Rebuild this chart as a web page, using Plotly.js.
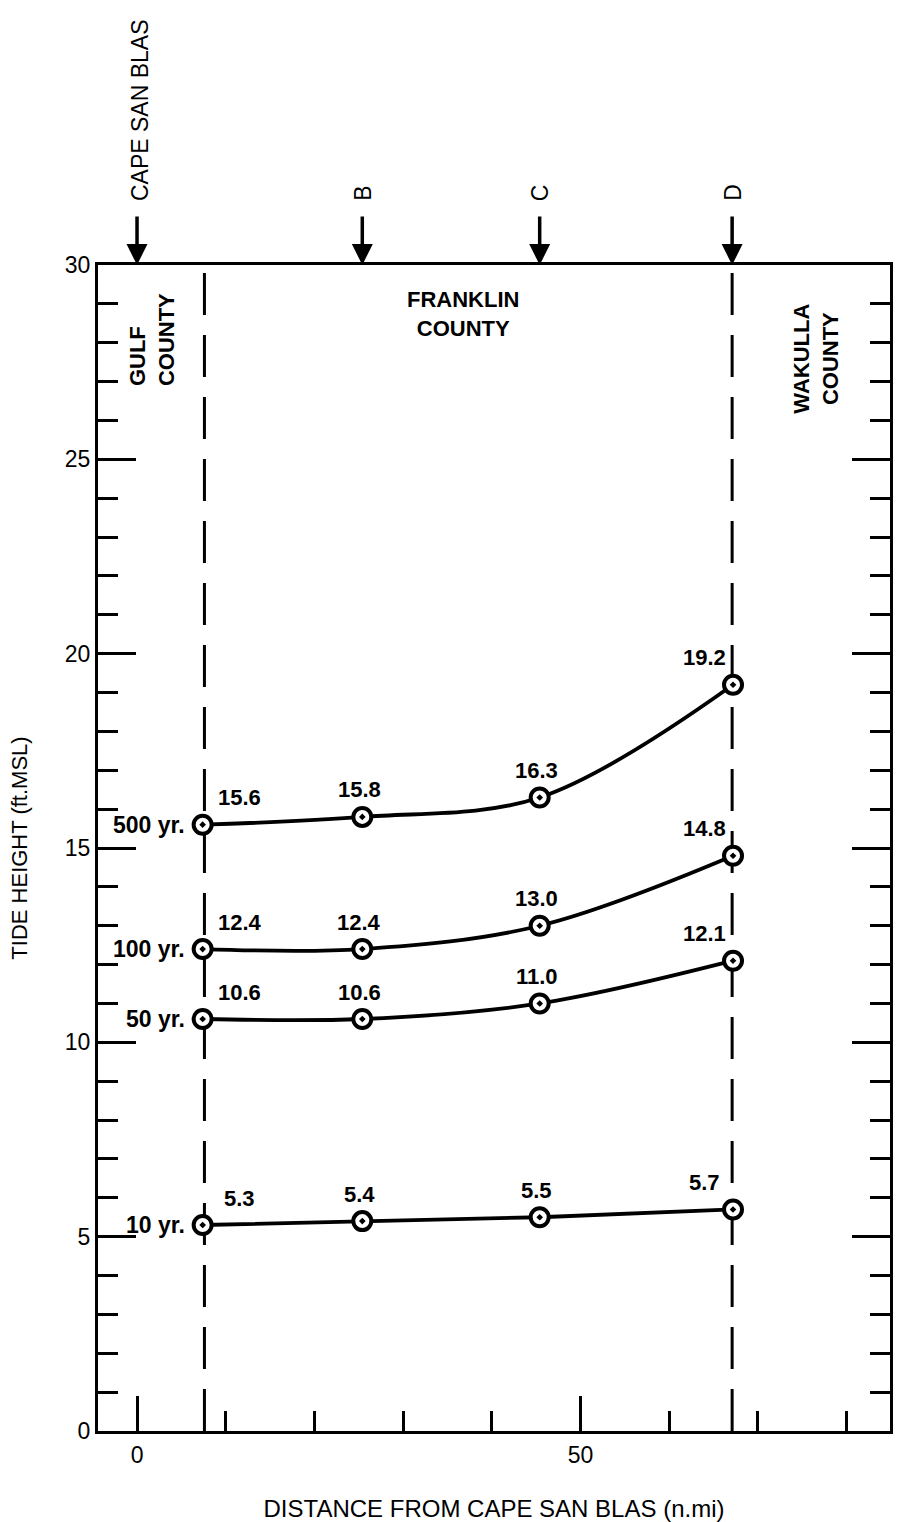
<!DOCTYPE html>
<html>
<head>
<meta charset="utf-8">
<script src="https://cdn.plot.ly/plotly-3.0.1.min.js"></script>
<style>html,body{margin:0;padding:0;background:#fff;}#chart{width:898px;height:1522px;}</style>
</head>
<body>
<div id="chart"></div>
<script>
// Distance from Cape San Blas (n.mi) of the tide stations
const distances = [7.4, 25.4, 45.4, 67.2];
// Tide heights (ft. MSL) by return period
const seriesNames = ['10 yr.', '50 yr.', '100 yr.', '500 yr.'];
const tide10 = [5.3, 5.4, 5.5, 5.7];
const tide50 = [10.6, 10.6, 11.0, 12.1];
const tide100 = [12.4, 12.4, 13.0, 14.8];
const tide500 = [15.6, 15.8, 16.3, 19.2];
// Reference stations marked by arrows along the top
const stationNames = ['CAPE SAN BLAS', 'B', 'C', 'D'];
const stationDist = [0, 25.4, 45.4, 67.1];
// County boundaries
const boundaries = [7.6, 67.1];
// Axis tick labels
const xTickVals = [0, 50];
const yTickVals = [0, 5, 10, 15, 20, 25, 30];

const FONT = 'Liberation Sans, Arial, Helvetica, sans-serif';
const allSeries = [tide10, tide50, tide100, tide500];

const traces = [];
// county boundary dashed lines
boundaries.forEach(b => {
  traces.push({
    x: [b, b], y: [0, 30], mode: 'lines', hoverinfo: 'skip', showlegend: false,
    line: {color: '#000', width: 3, dash: '42px,20px'}
  });
});
allSeries.forEach((ys, k) => {
  traces.push({
    x: distances, y: ys, mode: 'lines+markers', showlegend: false,
    name: seriesNames[k], cliponaxis: false,
    line: {color: '#000', width: 3.8, shape: k === 0 ? 'linear' : 'spline', smoothing: 1},
    marker: {symbol: 'circle-dot', size: 18, color: '#fff', line: {color: '#000', width: 4}}
  });
});

const annotations = [];
allSeries.forEach((ys, k) => {
  ys.forEach((v, i) => {
    let xs = 0;
    if (i === 0) xs = 37;
    else if (i === ys.length - 1) xs = -29;
    else xs = -3;
    annotations.push({
      x: distances[i], y: v, xref: 'x', yref: 'y', text: v.toFixed(1),
      showarrow: false, xanchor: 'center', yanchor: 'middle', xshift: xs, yshift: 27,
      font: {family: FONT, size: 22, color: '#000', weight: 'bold'}
    });
  });
  annotations.push({
    x: distances[0], y: ys[0], xref: 'x', yref: 'y', text: seriesNames[k],
    showarrow: false, xanchor: 'right', yanchor: 'middle', xshift: -16, yshift: 0,
    font: {family: FONT, size: 23, color: '#000', weight: 'bold'}
  });
});
// station arrows and labels
stationDist.forEach((d, i) => {
  annotations.push({
    x: d, y: 30, xref: 'x', yref: 'y', text: '', showarrow: true,
    ax: 0, ay: -50, arrowhead: 2, arrowsize: 1.2, arrowwidth: 3.5, arrowcolor: '#000', standoff: 0
  });
  annotations.push({
    x: d, y: 1, xref: 'x', yref: 'paper', text: stationNames[i], showarrow: false,
    textangle: -90, xanchor: 'center', yanchor: 'bottom', yshift: 62, xshift: i === 0 ? 3 : 0,
    font: {family: FONT, size: 23, color: '#000'}
  });
});
// county labels
annotations.push({
  x: 1.7, y: 28.07, xref: 'x', yref: 'y', text: 'GULF<br>COUNTY', showarrow: false,
  textangle: -90, align: 'left', xanchor: 'center', yanchor: 'middle',
  font: {family: FONT, size: 22, color: '#000', weight: 'bold'}
});
annotations.push({
  x: 36.7, y: 28.74, xref: 'x', yref: 'y', text: 'FRANKLIN<br>COUNTY', showarrow: false,
  align: 'center', xanchor: 'center', yanchor: 'middle',
  font: {family: FONT, size: 22, color: '#000', weight: 'bold'}
});
annotations.push({
  x: 76.6, y: 27.6, xref: 'x', yref: 'y', text: 'WAKULLA<br>COUNTY', showarrow: false,
  textangle: -90, align: 'center', xanchor: 'center', yanchor: 'middle',
  font: {family: FONT, size: 22, color: '#000', weight: 'bold'}
});

const layout = {
  width: 898, height: 1522,
  margin: {l: 98, r: 8, t: 265, b: 91},
  paper_bgcolor: '#fff', plot_bgcolor: '#fff',
  font: {family: FONT, color: '#000'},
  showlegend: false,
  xaxis: {
    range: [-4.4, 84.9], showgrid: false, zeroline: false,
    showline: true, linecolor: '#000', linewidth: 3, mirror: true,
    tickmode: 'array', tickvals: xTickVals, ticktext: xTickVals.map(String),
    ticks: 'inside', ticklen: 35, tickwidth: 3, tickcolor: '#000',
    minor: {dtick: 10, tick0: 0, ticks: 'inside', ticklen: 20, tickwidth: 3, tickcolor: '#000', showgrid: false},
    tickfont: {family: FONT, size: 23, color: '#000'},
    ticklabelstandoff: 1,
    title: {text: 'DISTANCE FROM CAPE SAN BLAS (n.mi)', font: {family: FONT, size: 24, color: '#000'}, standoff: 40}
  },
  yaxis: {
    range: [0, 30], showgrid: false, zeroline: false,
    showline: true, linecolor: '#000', linewidth: 3, mirror: 'ticks',
    tickmode: 'array', tickvals: yTickVals, ticktext: yTickVals.map(String),
    ticks: 'inside', ticklen: 38, tickwidth: 3, tickcolor: '#000',
    minor: {dtick: 1, tick0: 0, ticks: 'inside', ticklen: 20, tickwidth: 3, tickcolor: '#000', showgrid: false},
    tickfont: {family: FONT, size: 23, color: '#000'},
    ticklabelstandoff: 0,
    title: {text: 'TIDE HEIGHT (ft.MSL)', font: {family: FONT, size: 22, color: '#000'}, standoff: 32}
  },
  annotations: annotations
};

Plotly.newPlot('chart', traces, layout, {staticPlot: true, displayModeBar: false});
</script>
</body>
</html>
